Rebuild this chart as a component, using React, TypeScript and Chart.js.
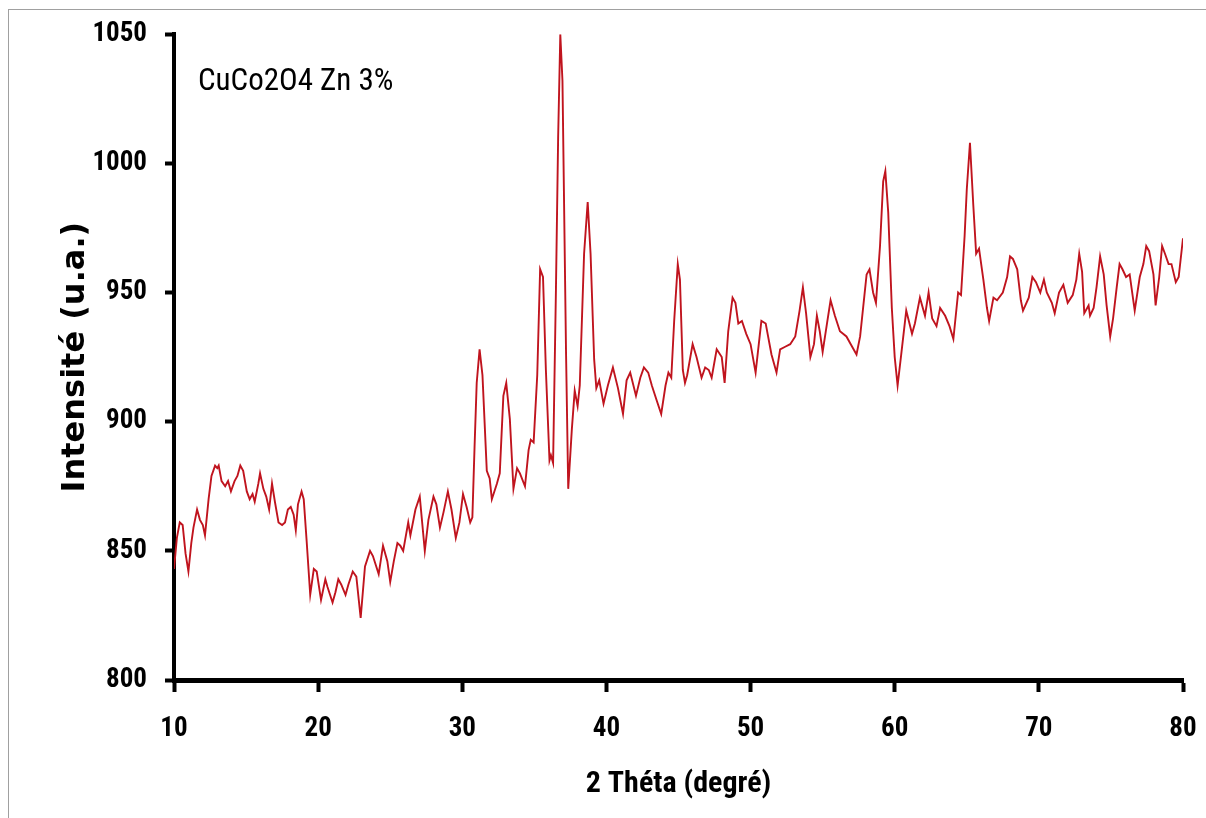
import React, { useEffect, useRef } from "react";
import { Chart, registerables } from "chart.js";

Chart.register(...registerables);

// ---- data ----
const twoTheta: number[] = [
  10.0, 10.2, 10.4, 10.6, 10.8, 11.0, 11.2, 11.35, 11.6, 11.8, 12.0, 12.15, 12.4, 12.6, 12.85, 13.0, 13.1, 13.3,
  13.55, 13.75, 13.95, 14.2, 14.4, 14.6, 14.8, 15.05, 15.25, 15.45, 15.6, 15.85, 15.97, 16.2, 16.4, 16.6, 16.8,
  17.0, 17.25, 17.5, 17.7, 17.9, 18.1, 18.3, 18.45, 18.6, 18.85, 19.0, 19.2, 19.45, 19.7, 19.9, 20.2, 20.5, 20.65,
  21.0, 21.2, 21.4, 21.6, 21.9, 22.1, 22.4, 22.65, 22.95, 23.25, 23.6, 23.8, 24.2, 24.5, 24.8, 25.0, 25.25, 25.5,
  25.7, 25.9, 26.25, 26.4, 26.75, 27.05, 27.4, 27.65, 28.0, 28.2, 28.45, 28.7, 29.0, 29.25, 29.55, 29.8, 30.05,
  30.3, 30.55, 30.7, 30.85, 31.0, 31.2, 31.4, 31.7, 31.9, 32.05, 32.4, 32.6, 32.85, 33.05, 33.3, 33.55, 33.8, 34.0,
  34.35, 34.6, 34.75, 34.95, 35.2, 35.4, 35.6, 35.8, 36.05, 36.15, 36.3, 36.5, 36.65, 36.8, 36.95, 37.2, 37.35,
  37.6, 37.8, 38.0, 38.15, 38.45, 38.7, 38.9, 39.15, 39.3, 39.5, 39.8, 40.1, 40.45, 40.8, 41.15, 41.4, 41.65,
  42.05, 42.35, 42.6, 42.9, 43.15, 43.5, 43.8, 44.1, 44.3, 44.5, 44.7, 44.95, 45.1, 45.3, 45.45, 45.6, 45.98,
  46.25, 46.6, 46.85, 47.1, 47.3, 47.65, 48.0, 48.2, 48.45, 48.75, 48.95, 49.15, 49.4, 49.7, 50.0, 50.35, 50.75,
  51.05, 51.45, 51.8, 52.05, 52.4, 52.75, 53.1, 53.4, 53.63, 53.85, 54.15, 54.4, 54.6, 54.8, 55.0, 55.3, 55.55,
  55.85, 56.2, 56.65, 56.95, 57.35, 57.6, 57.9, 58.05, 58.25, 58.5, 58.7, 58.98, 59.2, 59.35, 59.55, 59.8, 60.0,
  60.2, 60.45, 60.8, 61.2, 61.4, 61.75, 62.1, 62.35, 62.6, 62.9, 63.15, 63.5, 63.8, 64.07, 64.4, 64.6, 64.85,
  65.0, 65.22, 65.45, 65.65, 65.85, 66.15, 66.4, 66.55, 66.85, 67.1, 67.5, 67.8, 68.0, 68.2, 68.5, 68.75, 68.9,
  69.3, 69.55, 69.8, 70.1, 70.35, 70.55, 70.9, 71.1, 71.4, 71.7, 72.0, 72.35, 72.6, 72.8, 73.0, 73.15, 73.45,
  73.55, 73.8, 74.0, 74.25, 74.5, 74.7, 74.95, 75.15, 75.4, 75.6, 75.8, 76.05, 76.3, 76.65, 77.0, 77.25, 77.45,
  77.65, 77.95, 78.1, 78.35, 78.55, 78.75, 79.0, 79.2, 79.5, 79.7, 80.0,
];

const intensity: number[] = [
  843, 855, 861, 860, 849, 842, 853, 859, 866, 862, 860, 856, 870, 879, 883, 882, 883, 877,
  875, 877, 873, 877, 879, 883, 881, 873, 870, 872, 869, 876, 880, 874, 871, 866, 876,
  869, 861, 860, 861, 866, 867, 864, 858, 868, 873, 870, 854, 833, 843, 842, 831, 839, 836,
  830, 834, 839, 837, 833, 837, 842, 840, 824, 844, 850, 848, 841, 852, 846, 838, 846, 853,
  852, 850, 861, 856, 866, 871, 850, 862, 871, 868, 859, 865, 873, 866, 855, 861, 872,
  867, 861, 863, 890, 915, 928, 918, 881, 878, 870, 876, 880, 910, 915, 901, 874, 882, 880,
  875, 889, 893, 892, 918, 959, 956, 920, 885, 887, 884, 952, 1010, 1050, 1032, 926, 874,
  897, 912, 906, 914, 965, 985, 965, 924, 913, 916, 907, 914, 921, 913, 903, 916, 919,
  910, 917, 921, 919, 914, 908, 903, 914, 919, 917, 939, 961, 955, 920, 915, 918, 930,
  925, 917, 921, 920, 917, 928, 925, 915, 935, 948, 946, 938, 939, 934, 930, 919, 939,
  938, 926, 919, 928, 929, 930, 933, 943, 952, 942, 925, 930, 941, 935, 927, 938, 947,
  941, 935, 933, 930, 926, 933, 949, 957, 959, 950, 946, 968, 993, 997, 981, 944, 925,
  914, 926, 943, 934, 938, 948, 941, 950, 940, 937, 944, 941, 937, 932, 950, 949, 972,
  990, 1008, 984, 965, 967, 955, 944, 939, 948, 947, 950, 956, 964, 963, 959, 947, 943,
  948, 956, 954, 950, 955, 950, 946, 942, 950, 953, 946, 949, 955, 965, 958, 942, 945,
  941, 944, 952, 964, 957, 945, 933, 940, 952, 961, 959, 956, 957, 943, 956, 961, 968,
  966, 957, 945, 956, 968, 965, 961, 961, 954, 956, 971,
];

const xMin = 10;
const xMax = 80;
const xStep = 10;
const yMin = 800;
const yMax = 1050;
const yStep = 50;

const sampleLabel = "CuCo2O4 Zn 3%";
const xTitle = "2 Théta (degré)";
const yTitle = "Intensité (u.a.)";

const NARROW = '"Roboto Condensed", "Open Sans Condensed", "Liberation Sans", Arial, sans-serif';
const WIDE = '"DejaVu Sans", Verdana, sans-serif';

const sampleLabelPlugin = {
  id: "sampleLabel",
  afterDraw(chart: any) {
    const { ctx, chartArea } = chart;
    ctx.save();
    ctx.font = `31px ${NARROW}`;
    ctx.fillStyle = "#000";
    ctx.textBaseline = "alphabetic";
    ctx.textAlign = "left";
    ctx.fillText(sampleLabel, chartArea.left + 24, chartArea.top + 56);
    ctx.restore();
  },
};

export default function App() {
  const canvasRef = useRef<HTMLCanvasElement | null>(null);

  useEffect(() => {
    if (!canvasRef.current) return;
    const points = twoTheta.map((x, i) => ({ x, y: intensity[i] }));
    const chart = new Chart(canvasRef.current, {
      type: "line",
      data: {
        datasets: [
          {
            data: points,
            borderColor: "#c0141e",
            borderWidth: 1.9,
            pointRadius: 0,
            tension: 0,
            fill: false,
          },
        ],
      },
      options: {
        animation: false,
        responsive: false,
        maintainAspectRatio: false,
        layout: { padding: { left: 0, top: 34, right: 23, bottom: 0 } },
        plugins: { legend: { display: false }, tooltip: { enabled: false } },
        scales: {
          x: {
            type: "linear",
            min: xMin,
            max: xMax,
            afterFit: (s: any) => {
              s.height = 138;
            },
            ticks: {
              stepSize: xStep,
              color: "#000",
              padding: 2,
              maxRotation: 0,
              callback: (v: any) => String(v),
              font: { family: NARROW, size: 27, weight: "bold", lineHeight: 2.6 },
            },
            grid: {
              display: true,
              drawOnChartArea: false,
              drawTicks: true,
              tickLength: 12,
              tickWidth: 4,
              tickColor: "#000",
            },
            border: { display: true, color: "#000", width: 5 },
            title: {
              display: true,
              text: xTitle,
              color: "#000",
              font: { family: NARROW, size: 30, weight: "bold" },
              padding: { top: 0, bottom: 16 },
            },
          },
          y: {
            type: "linear",
            min: yMin,
            max: yMax,
            afterFit: (s: any) => {
              s.width = 174;
            },
            ticks: {
              stepSize: yStep,
              color: "#000",
              padding: 18,
              callback: (v: any) => String(v),
              font: { family: NARROW, size: 27, weight: "bold" },
            },
            grid: {
              display: true,
              drawOnChartArea: false,
              drawTicks: true,
              tickLength: 9,
              tickWidth: 4,
              tickColor: "#000",
            },
            border: { display: true, color: "#000", width: 4 },
            title: {
              display: true,
              text: yTitle,
              color: "#000",
              font: { family: WIDE, size: 32, weight: "bold" },
              padding: { top: 56, bottom: 0 },
            },
          },
        },
      },
      plugins: [sampleLabelPlugin],
    });
    return () => chart.destroy();
  }, []);

  return (
    <div
      style={{
        position: "fixed",
        left: 0,
        top: 0,
        width: 1206,
        height: 818,
        overflow: "hidden",
        background: "#fff",
      }}
    >
      <div
        style={{
          position: "absolute",
          left: 8,
          top: 9,
          width: 1400,
          height: 1000,
          borderTop: "1.5px solid #a0a0a0",
          borderLeft: "1.5px solid #a0a0a0",
        }}
      />
      <canvas ref={canvasRef} width={1206} height={818} style={{ position: "absolute", left: 0, top: 0 }} />
    </div>
  );
}
